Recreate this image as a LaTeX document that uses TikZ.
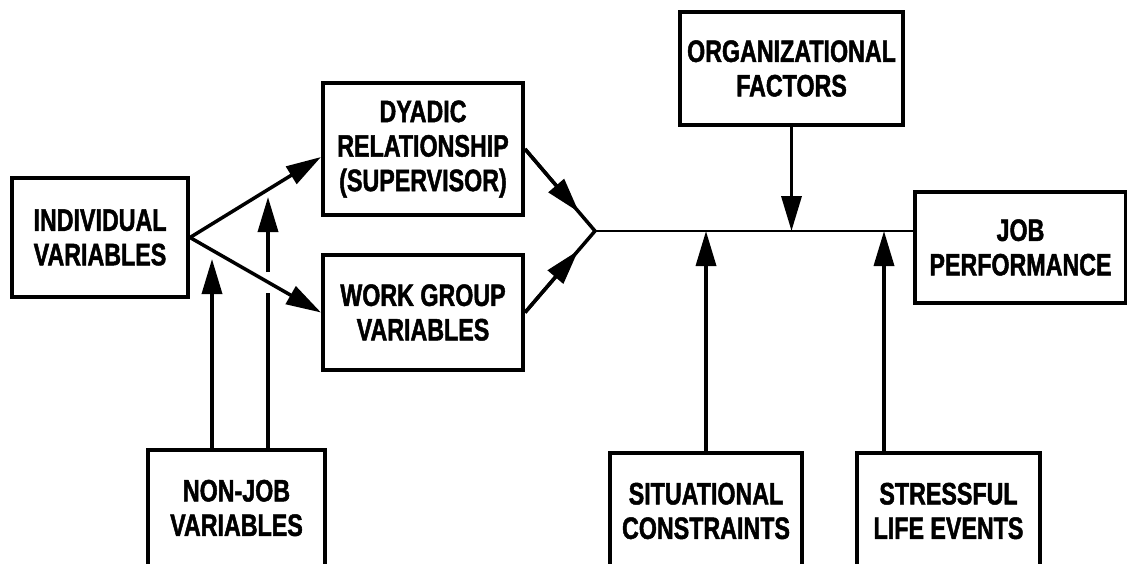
\documentclass[tikz,border=0pt]{standalone}
\usepackage{fontspec}
\newfontfamily\boxfont{Liberation Sans}[FakeStretch=0.75,FakeBold=1.5]
\usepackage{tikz}
\usetikzlibrary{shapes,arrows.meta,calc}

\begin{document}
\begin{tikzpicture}[x=1pt,y=-1pt,
box/.style={rectangle,draw,line width=4pt,inner sep=0pt,align=center,
  font=\boxfont\bfseries\fontsize{31}{34.5}\selectfont},
conn/.style={line width=3.5pt},
tip/.style={-{Triangle[length=35pt,width=20pt]}}]
\tikzstyle{flow}=[line width=2.5pt]

\useasboundingbox (0,0) rectangle (1127,563);

\node[box,minimum width=176pt,minimum height=119pt] (Indiv) at (100,237.5) {INDIVIDUAL\\VARIABLES};
\node[box,minimum width=200pt,minimum height=132pt] (Dyadic) at (423,149) {DYADIC\\RELATIONSHIP\\(SUPERVISOR)};
\node[box,minimum width=200pt,minimum height=115pt] (Workgrp) at (423,312.5) {WORK GROUP\\VARIABLES};
\node[box,minimum width=223pt,minimum height=113pt] (Org) at (791.5,68.5) {ORGANIZATIONAL\\FACTORS};
\node[box,minimum width=211pt,minimum height=111pt] (Job) at (1020.5,247.5) {JOB\\PERFORMANCE};
\node[box,minimum width=177pt,minimum height=116pt] (Nonjob) at (236.5,508) {NON-JOB\\VARIABLES};
\node[box,minimum width=192pt,minimum height=116pt] (Situat) at (706,511) {SITUATIONAL\\CONSTRAINTS};
\node[box,minimum width=183pt,minimum height=116pt] (Stress) at (948.5,511) {STRESSFUL\\LIFE EVENTS};

\coordinate (Junc) at (595,231);
\coordinate (TipA) at (212,259);
\coordinate (GapLo) at (268,293);
\coordinate (GapHi) at (268,272);
\coordinate (TipB) at (268,197);

% individual to the two groups
\draw[conn,tip] (Indiv.east) -- ([yshift=-8pt]Dyadic.west);
\draw[conn,tip] (Indiv.east) -- (Workgrp.west);

% into the junction
\draw[conn] (Dyadic.east) -- (Junc);
\draw[conn,tip] (Dyadic.east) -- ($(Dyadic.east)!0.77!(Junc)$);
\draw[conn] (Workgrp.east) -- (Junc);
\draw[conn,tip] (Workgrp.east) -- ($(Workgrp.east)!0.76!(Junc)$);
\draw[flow] (Junc) -- (Junc -| Job.west);

% moderators
\draw[conn,tip] (Org.south) -- (Org.south |- Junc);
\draw[conn,tip] (Situat.north) -- (Situat.north |- Junc);
\draw[conn,tip] ([xshift=29pt]Stress.north west) -- ([xshift=29pt]Stress.north west |- Junc);
\draw[conn,tip] ([xshift=-24.5pt]Nonjob.north) -- (TipA);
\draw[conn] ([xshift=31.5pt]Nonjob.north) -- (GapLo);
\draw[conn,tip] (GapHi) -- (TipB);

\end{tikzpicture}
\end{document}
